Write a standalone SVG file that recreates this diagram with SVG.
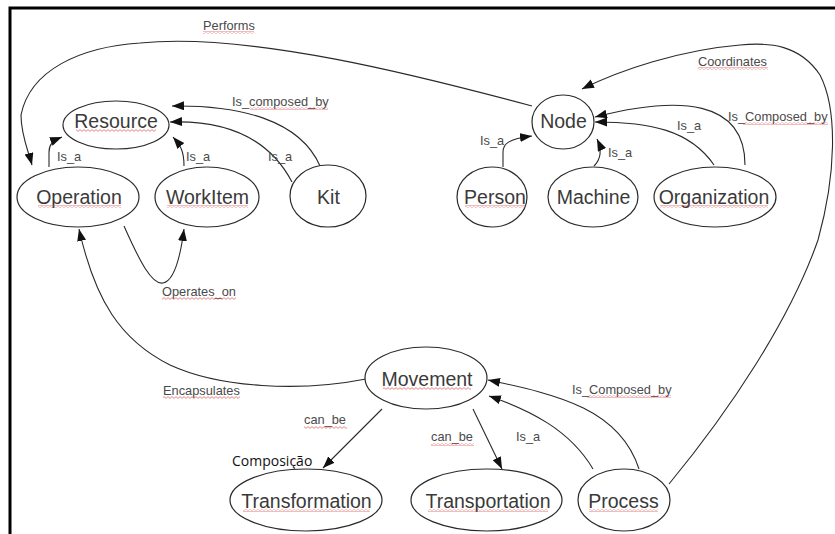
<svg xmlns="http://www.w3.org/2000/svg" width="835" height="534" viewBox="0 0 835 534">
<style>
.nd{fill:#fff;stroke:#2a2a2a;stroke-width:1.2}
.nl{font-family:"Liberation Sans",Arial,sans-serif;font-size:19.5px;fill:#3a3a3a;text-anchor:middle}
.el{font-family:"Liberation Sans",Arial,sans-serif;font-size:12.8px;fill:#4a4a4a}
.cn{fill:none;stroke:#2a2a2a;stroke-width:1.1;marker-end:url(#ah)}
.sq{fill:url(#sq)}
</style>
<defs>
<marker id="ah" markerUnits="userSpaceOnUse" markerWidth="13" markerHeight="10" refX="12" refY="4.5" orient="auto"><path d="M0,0 L12,4.5 L0,9 z" fill="#111"/></marker>
<pattern id="sq" width="4" height="3" patternUnits="userSpaceOnUse"><path d="M0,0.6 L2,2.4 L4,0.6" fill="none" stroke="#e05050" stroke-width="0.7"/></pattern>
</defs>
<rect width="835" height="534" fill="#fff"/>
<path d="M10,534 V8 H835" fill="none" stroke="#000" stroke-width="3"/>

<g id="connectors">
<path class="cn" d="M532,106 C420,76 250,32 140,43 C80,47 30,70 21,115 C21,135 28,150 32,165"/>
<path class="cn" d="M49,167 L49,152 C49,145 52,141 62,137"/>
<path class="cn" d="M184,166 C184,150 180,145 173,137"/>
<path class="cn" d="M292,182 C270,140 230,120 170,122"/>
<path class="cn" d="M320,166 C300,120 240,105 172,106"/>
<path class="cn" d="M124,226 C140,262 152,285 163,283 C174,281 180,260 184,229"/>
<path class="cn" d="M366,379 C300,392 220,388 170,365 C120,340 95,300 79,229"/>
<path class="cn" d="M382,409 L323,468"/>
<path class="cn" d="M473,409 L502,469"/>
<path class="cn" d="M593,469 C570,430 530,410 489,396"/>
<path class="cn" d="M639,469 C620,410 560,395 488,380"/>
<path class="cn" d="M669,484 C730,410 790,320 818,240 C836,175 838,110 820,75 C800,45 770,42 740,45 C680,50 620,70 582,89"/>
<path class="cn" d="M503,167 L503,152 C503,144 508,139 532,136"/>
<path class="cn" d="M594,166 C600,160 603,152 597,139"/>
<path class="cn" d="M714,165 C690,130 650,122 595,122"/>
<path class="cn" d="M745,165 C745,100 680,95 595,117"/>
</g>

<g id="edge-labels">
<text class="el" x="203" y="30">Performs</text>
<text class="el" x="232" y="106">Is_composed_by</text>
<text class="el" x="57" y="161">Is_a</text>
<text class="el" x="186" y="161">Is_a</text>
<text class="el" x="268" y="161">Is_a</text>
<text class="el" x="698" y="66">Coordinates</text>
<text class="el" x="728" y="121">Is_Composed_by</text>
<text class="el" x="677" y="130">Is_a</text>
<text class="el" x="480" y="145">Is_a</text>
<text class="el" x="608" y="157">Is_a</text>
<text class="el" x="162" y="296">Operates_on</text>
<text class="el" x="163" y="395">Encapsulates</text>
<text class="el" x="304" y="424">can_be</text>
<text class="el" x="431" y="441">can_be</text>
<text class="el" x="516" y="441">Is_a</text>
<text class="el" x="572" y="394">Is_Composed_by</text>
<text x="232" y="466" font-family="'Open Sans','Liberation Sans',sans-serif" font-size="14" fill="#111">Composição</text>
</g>

<g id="squiggles">
<rect class="sq" x="203" y="31" width="51" height="3"/>
<rect class="sq" x="250" y="107" width="78" height="3"/>
<rect class="sq" x="698" y="67" width="70" height="3"/>
<rect class="sq" x="743" y="122" width="85" height="3"/>
<rect class="sq" x="162" y="297" width="74" height="3"/>
<rect class="sq" x="163" y="396" width="77" height="3"/>
<rect class="sq" x="304" y="426" width="43" height="3"/>
<rect class="sq" x="431" y="443" width="43" height="3"/>
<rect class="sq" x="587" y="395" width="84" height="3"/>
</g>

<g id="n-resource"><ellipse class="nd" cx="116" cy="125" rx="53" ry="24"/><text class="nl" x="116" y="128">Resource</text><rect class="sq" x="76" y="129" width="80" height="3"/></g>
<g id="n-operation"><ellipse class="nd" cx="78" cy="197" rx="61" ry="30"/><text class="nl" x="79" y="204">Operation</text><rect class="sq" x="38" y="205" width="83" height="3"/></g>
<g id="n-workitem"><ellipse class="nd" cx="207" cy="197" rx="52" ry="30"/><text class="nl" x="207.5" y="204">WorkItem</text><rect class="sq" x="167" y="205" width="81" height="3"/></g>
<g id="n-kit"><ellipse class="nd" cx="328" cy="196" rx="38" ry="31"/><text class="nl" x="328.5" y="204">Kit</text></g>
<g id="n-node"><ellipse class="nd" cx="563" cy="122" rx="31" ry="27"/><text class="nl" x="563.5" y="128">Node</text></g>
<g id="n-person"><ellipse class="nd" cx="492" cy="197" rx="35" ry="30"/><text class="nl" x="495" y="204">Person</text><rect class="sq" x="465" y="205" width="60" height="3"/></g>
<g id="n-machine"><ellipse class="nd" cx="593" cy="197" rx="45" ry="30"/><text class="nl" x="593.5" y="204">Machine</text></g>
<g id="n-organization"><ellipse class="nd" cx="715" cy="197" rx="61" ry="30"/><text class="nl" x="714" y="204">Organization</text><rect class="sq" x="660" y="205" width="108" height="3"/></g>
<g id="n-movement"><ellipse class="nd" cx="426" cy="378" rx="61" ry="31"/><text class="nl" x="427" y="386">Movement</text><rect class="sq" x="383" y="387" width="88" height="3"/></g>
<g id="n-transformation"><ellipse class="nd" cx="306" cy="500" rx="76" ry="31"/><text class="nl" x="306.5" y="508">Transformation</text><rect class="sq" x="243" y="509" width="127" height="3"/></g>
<g id="n-transportation"><ellipse class="nd" cx="486.5" cy="500" rx="75.5" ry="31"/><text class="nl" x="488" y="508">Transportation</text><rect class="sq" x="428" y="509" width="120" height="3"/></g>
<g id="n-process"><ellipse class="nd" cx="624" cy="500" rx="46" ry="31"/><text class="nl" x="623.5" y="508">Process</text><rect class="sq" x="589" y="509" width="69" height="3"/></g>
</svg>
